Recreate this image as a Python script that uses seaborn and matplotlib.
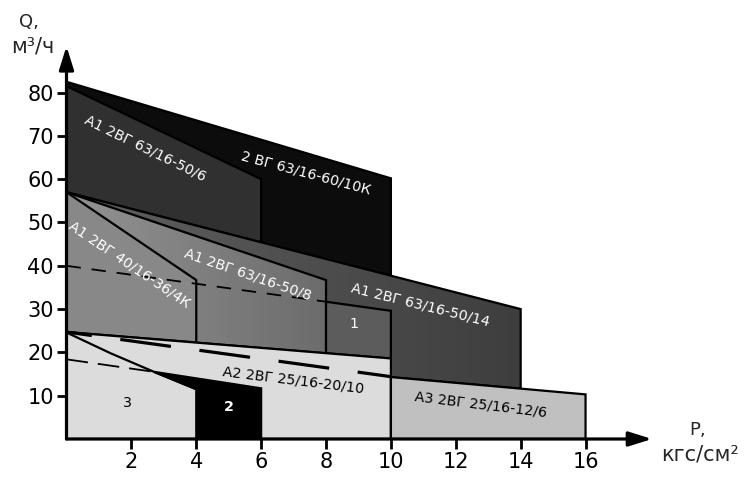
import numpy as np
import matplotlib
matplotlib.use('Agg')
import matplotlib.pyplot as plt
from matplotlib.patches import Polygon
from matplotlib.colors import LinearSegmentedColormap
import seaborn as sns

sns.set_theme(style='white')
plt.rcParams['font.family'] = ['DejaVu Sans']

# --- данные: вершины областей (P, кгс/см2 ; Q, м3/ч) ---
P_60_10K = [0, 10, 10, 0]
Q_60_10K = [82.5, 60.2, 37.7, 57.0]
P_50_6 = [0, 6, 6, 0]
Q_50_6 = [81.5, 60.0, 45.4, 57.0]
P_50_14 = [0, 14, 14, 10, 0]
Q_50_14 = [57.0, 30.0, 11.6, 14.3, 24.7]
P_50_8 = [0, 8, 8, 0]
Q_50_8 = [57.0, 36.7, 19.8, 24.7]
P_36_4K = [0, 4, 4, 0]
Q_36_4K = [57.0, 36.7, 22.3, 24.7]
P_ZONE1 = [8, 10, 10, 8]
Q_ZONE1 = [31.7, 29.6, 18.6, 19.8]
P_20_10 = [0, 10, 10, 0]
Q_20_10 = [24.7, 18.6, 0, 0]
P_12_6 = [10, 16, 16, 10]
Q_12_6 = [14.3, 10.3, 0, 0]
P_ZONE2 = [2.7, 6, 6, 4, 4]
Q_ZONE2 = [15.5, 11.7, 0, 0, 11.5]

# линии
P_CURVE = [0, 1.36, 2.7, 4]
Q_CURVE = [24.6, 19.8, 15.5, 11.5]
P_DASH40 = [0, 8]
Q_DASH40 = [40.0, 31.7]
P_DASH18 = [0, 2.7]
Q_DASH18 = [18.4, 15.5]
P_THICK = [0, 10]
Q_THICK = [24.7, 14.4]

X_TICKS = [2, 4, 6, 8, 10, 12, 14, 16]
Y_TICKS = [10, 20, 30, 40, 50, 60, 70, 80]

X_MAX, Y_MAX = 18.3, 92

fig = plt.figure(figsize=(7.52, 4.8), dpi=100)
ax = fig.add_axes([66.5 / 752, 41 / 480, X_MAX * 32.44 / 752, Y_MAX * 4.33 / 480])
ax.set_xlim(0, X_MAX)
ax.set_ylim(0, Y_MAX)

EDGE = dict(edgecolor='black', linewidth=1.6, joinstyle='miter')


def solid(px, py, color, z):
    ax.fill(px, py, facecolor=color, zorder=z, **EDGE)


def gradient(px, py, c_left, c_right, z):
    poly = Polygon(np.column_stack([px, py]), closed=True, facecolor='none',
                   zorder=z + 0.1, **EDGE)
    ax.add_patch(poly)
    cmap = LinearSegmentedColormap.from_list('g', [c_left, c_right])
    im = ax.imshow(np.linspace(0, 1, 256)[None, :], cmap=cmap, aspect='auto',
                   extent=(min(px), max(px), min(py), max(py)),
                   interpolation='bilinear', zorder=z)
    im.set_clip_path(poly)


solid(P_60_10K, Q_60_10K, '#0c0c0c', 1)
solid(P_50_6, Q_50_6, '#303030', 2)
gradient(P_50_14, Q_50_14, '#606060', '#3e3e3e', 3)
gradient(P_50_8, Q_50_8, '#939393', '#6c6c6c', 4)
solid(P_36_4K, Q_36_4K, '#888888', 5)
solid(P_ZONE1, Q_ZONE1, '#5c5c5c', 6)
solid(P_20_10, Q_20_10, '#dcdcdc', 7)
solid(P_12_6, Q_12_6, '#c0c0c0', 8)
solid(P_ZONE2, Q_ZONE2, '#000000', 9)

sns.lineplot(x=P_CURVE, y=Q_CURVE, color='black', linewidth=1.6, sort=False,
             estimator=None, ax=ax, zorder=10)
ax.plot(P_DASH40, Q_DASH40, color='black', linewidth=1.3,
        linestyle=(0, (8, 6)), zorder=10)
ax.plot(P_DASH18, Q_DASH18, color='black', linewidth=1.3,
        linestyle=(0, (12, 5.5)), zorder=10)
ax.plot(P_THICK, Q_THICK, color='black', linewidth=2.3,
        linestyle=(8, (16, 9)), zorder=10)

# подписи областей
LBL = dict(ha='center', va='center', fontsize=10.3, zorder=20,
           rotation_mode='anchor')
ax.text(2.44, 67.2, 'А1 2ВГ 63/16-50/6', color='white', rotation=-26, **LBL)
ax.text(7.37, 61.4, '2 ВГ 63/16-60/10К', color='white', rotation=-15, **LBL)
ax.text(1.95, 40.3, 'А1 2ВГ 40/16-36/4К', color='white', rotation=-34, **LBL)
ax.text(5.58, 38.1, 'А1 2ВГ 63/16-50/8', color='white', rotation=-19, **LBL)
ax.text(10.9, 30.9, 'А1 2ВГ 63/16-50/14', color='white', rotation=-14, **LBL)
ax.text(8.85, 26.6, '1', color='white', **LBL)
ax.text(7.0, 13.6, 'А2 2ВГ 25/16-20/10', color='black', rotation=-7, **LBL)
ax.text(12.76, 7.9, 'А3 2ВГ 25/16-12/6', color='black', rotation=-7, **LBL)
ax.text(5.0, 7.5, '2', color='white', fontweight='bold', **LBL)
ax.text(1.87, 8.4, '3', color='black', **LBL)

# оси со стрелками
for s in ax.spines.values():
    s.set_visible(False)
ARROW = dict(arrowstyle='-|>,head_length=0.7,head_width=0.22', color='black',
             lw=2.3, shrinkA=0, shrinkB=0, mutation_scale=20)
ax.annotate('', xy=(18.05, 0), xytext=(0, 0), arrowprops=ARROW,
            annotation_clip=False, zorder=30)
ax.annotate('', xy=(0, 90.7), xytext=(0, 0), arrowprops=ARROW,
            annotation_clip=False, zorder=30)

ax.set_xticks(X_TICKS)
ax.set_yticks(Y_TICKS)
ax.set_xticklabels([str(v) for v in X_TICKS])
ax.set_yticklabels([str(v) for v in Y_TICKS])
ax.tick_params(direction='out', length=7, width=2, labelsize=15,
               colors='black', pad=2, bottom=True, left=True)
ax.grid(False)

fig.text(29 / 752, 1 - 22 / 480, 'Q,', fontsize=13, ha='center', va='center')
fig.text(33 / 752, 1 - 46 / 480, 'м³/ч', fontsize=15, ha='center', va='center')
fig.text(698 / 752, 1 - 430 / 480, 'P,', fontsize=13, ha='center', va='center')
fig.text(700 / 752, 1 - 454 / 480, 'кгс/см²', fontsize=15, ha='center',
         va='center')

fig.savefig('out.png', dpi=100, facecolor='white')
